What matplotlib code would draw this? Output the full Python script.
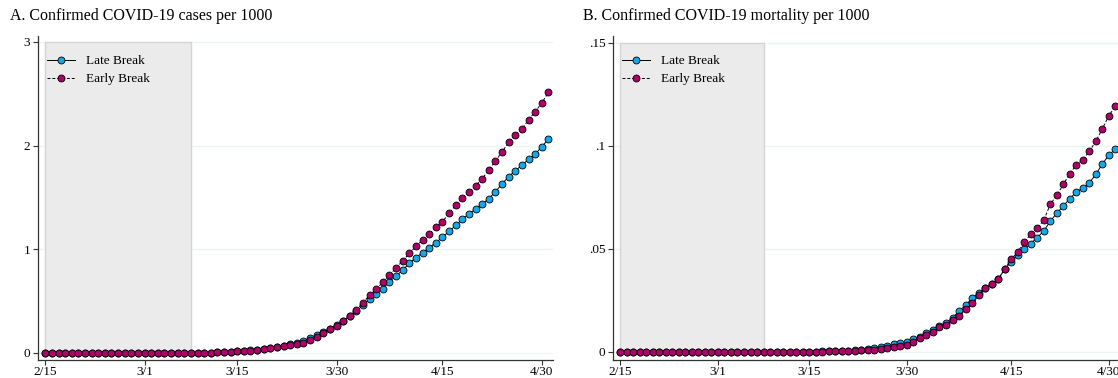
import numpy as np
import pandas as pd
import matplotlib
matplotlib.use("Agg")
import matplotlib.pyplot as plt

plt.rcParams["font.family"] = ["Liberation Serif", "DejaVu Serif"]

# Tage ab 15.02.2020 bis 01.05.2020
dates = pd.date_range("2020-02-15", "2020-05-01", freq="D")
tick_days = [0, 15, 29, 44, 60, 75]
tick_labels = ["2/15", "3/1", "3/15", "3/30", "4/15", "4/30"]

# A. Faelle pro 1000
cases_late = [0] * 20 + [
    0.001, 0.001, 0.002, 0.002, 0.003, 0.004, 0.006, 0.009, 0.012, 0.015,
    0.020, 0.025, 0.032, 0.040, 0.049, 0.059, 0.071, 0.083, 0.096, 0.118,
    0.145, 0.174, 0.205, 0.235, 0.270, 0.310, 0.355, 0.405, 0.460, 0.520,
    0.566, 0.620, 0.688, 0.743, 0.800, 0.865, 0.920, 0.967, 1.015, 1.064,
    1.116, 1.173, 1.230, 1.289, 1.340, 1.390, 1.437, 1.488, 1.555, 1.630,
    1.700, 1.758, 1.810, 1.868, 1.916, 1.990, 2.060]
cases_early = [0] * 20 + [
    0.001, 0.001, 0.002, 0.002, 0.003, 0.004, 0.006, 0.008, 0.011, 0.014,
    0.018, 0.023, 0.029, 0.036, 0.044, 0.055, 0.066, 0.076, 0.087, 0.100,
    0.125, 0.157, 0.190, 0.228, 0.263, 0.310, 0.360, 0.415, 0.485, 0.560,
    0.614, 0.685, 0.752, 0.820, 0.890, 0.960, 1.030, 1.090, 1.150, 1.210,
    1.266, 1.347, 1.427, 1.495, 1.550, 1.613, 1.680, 1.765, 1.850, 1.940,
    2.030, 2.100, 2.160, 2.247, 2.327, 2.410, 2.514]

# B. Todesfaelle pro 1000
deaths_late = [0] * 30 + [
    0.0002, 0.0003, 0.0004, 0.0005, 0.0006, 0.0007, 0.0008, 0.0010, 0.0014, 0.0018,
    0.0023, 0.0030, 0.0037, 0.0042, 0.0050, 0.0061, 0.0074, 0.0090, 0.0106, 0.0126,
    0.0142, 0.0166, 0.0198, 0.0227, 0.0260, 0.0287, 0.0311, 0.0328, 0.0352, 0.0402,
    0.0437, 0.0470, 0.0499, 0.0526, 0.0555, 0.0587, 0.0634, 0.0674, 0.0708, 0.0744,
    0.0776, 0.0795, 0.0821, 0.0862, 0.0913, 0.0954, 0.0986]
deaths_early = [0] * 30 + [
    0.0001, 0.0002, 0.0003, 0.0004, 0.0005, 0.0006, 0.0007, 0.0008, 0.0010, 0.0011,
    0.0015, 0.0021, 0.0026, 0.0030, 0.0034, 0.0050, 0.0066, 0.0082, 0.0098, 0.0120,
    0.0131, 0.0155, 0.0176, 0.0207, 0.0236, 0.0276, 0.0311, 0.0328, 0.0352, 0.0402,
    0.0449, 0.0485, 0.0534, 0.0571, 0.0602, 0.0639, 0.0716, 0.0760, 0.0813, 0.0865,
    0.0908, 0.0933, 0.0973, 0.1023, 0.1083, 0.1147, 0.1192]

shade_end = 22  # 3/8

blue = "#18a7e6"
red = "#b0006a"

W, H = 1118, 378
fig = plt.figure(figsize=(W / 100, H / 100), dpi=100)

panels = [
    dict(rect=[38, 36, 515, 324], late=cases_late, early=cases_early,
         ylim=(-0.068, 3.057), yticks=[0, 1, 2, 3], ylabels=["0", "1", "2", "3"],
         title="A. Confirmed COVID-19 cases per 1000", tx=10),
    dict(rect=[613, 36, 507, 324], late=deaths_late, early=deaths_early,
         ylim=(-0.0039, 0.1533), yticks=[0, 0.05, 0.1, 0.15],
         ylabels=["0", ".05", ".1", ".15"],
         title="B. Confirmed COVID-19 mortality per 1000", tx=583),
]

x = np.arange(len(dates))

for p in panels:
    l, t, w, h = p["rect"]
    ax = fig.add_axes([l / W, 1 - (t + h) / H, w / W, h / H])
    top = p["yticks"][-1]
    ax.fill_between([0, shade_end], 0, top, facecolor="#ebebeb",
                    edgecolor="#d5d5d5", linewidth=1.0, zorder=1)
    for yt in p["yticks"]:
        ax.axhline(yt, color="#eef3f3", linewidth=1.0, zorder=0)
    ax.plot(x, p["late"], color="black", linewidth=0.7, linestyle="-",
            marker="o", markersize=5, markerfacecolor=blue,
            markeredgecolor="black", markeredgewidth=0.6, zorder=3,
            label="Late Break")
    ax.plot(x, p["early"], color="black", linewidth=0.7, linestyle=(0, (3, 2)),
            marker="o", markersize=5, markerfacecolor=red,
            markeredgecolor="black", markeredgewidth=0.6, zorder=4,
            label="Early Break")
    ax.set_xlim(-1.1, 76.7)
    ax.set_ylim(*p["ylim"])
    ax.set_xticks(tick_days)
    ax.set_xticklabels(tick_labels)
    ax.set_yticks(p["yticks"])
    ax.set_yticklabels(p["ylabels"])
    ax.tick_params(labelsize=9.5, length=3.5, width=0.8, color="#333333")
    ax.tick_params(axis="x", pad=0.5)
    ax.tick_params(axis="y", pad=2)
    for s in ["top", "right"]:
        ax.spines[s].set_visible(False)
    for s in ["left", "bottom"]:
        ax.spines[s].set_color("#333333")
        ax.spines[s].set_linewidth(0.9)
    ax.legend(loc="upper left", bbox_to_anchor=(0.0, 0.97), frameon=False,
              fontsize=9.5, handlelength=2.1, handletextpad=0.8,
              labelspacing=0.45, borderaxespad=0.3)
    fig.text(p["tx"] / W, 1 - 20 / H, p["title"], fontsize=11.5, va="baseline")

fig.savefig("out.png", dpi=100)
